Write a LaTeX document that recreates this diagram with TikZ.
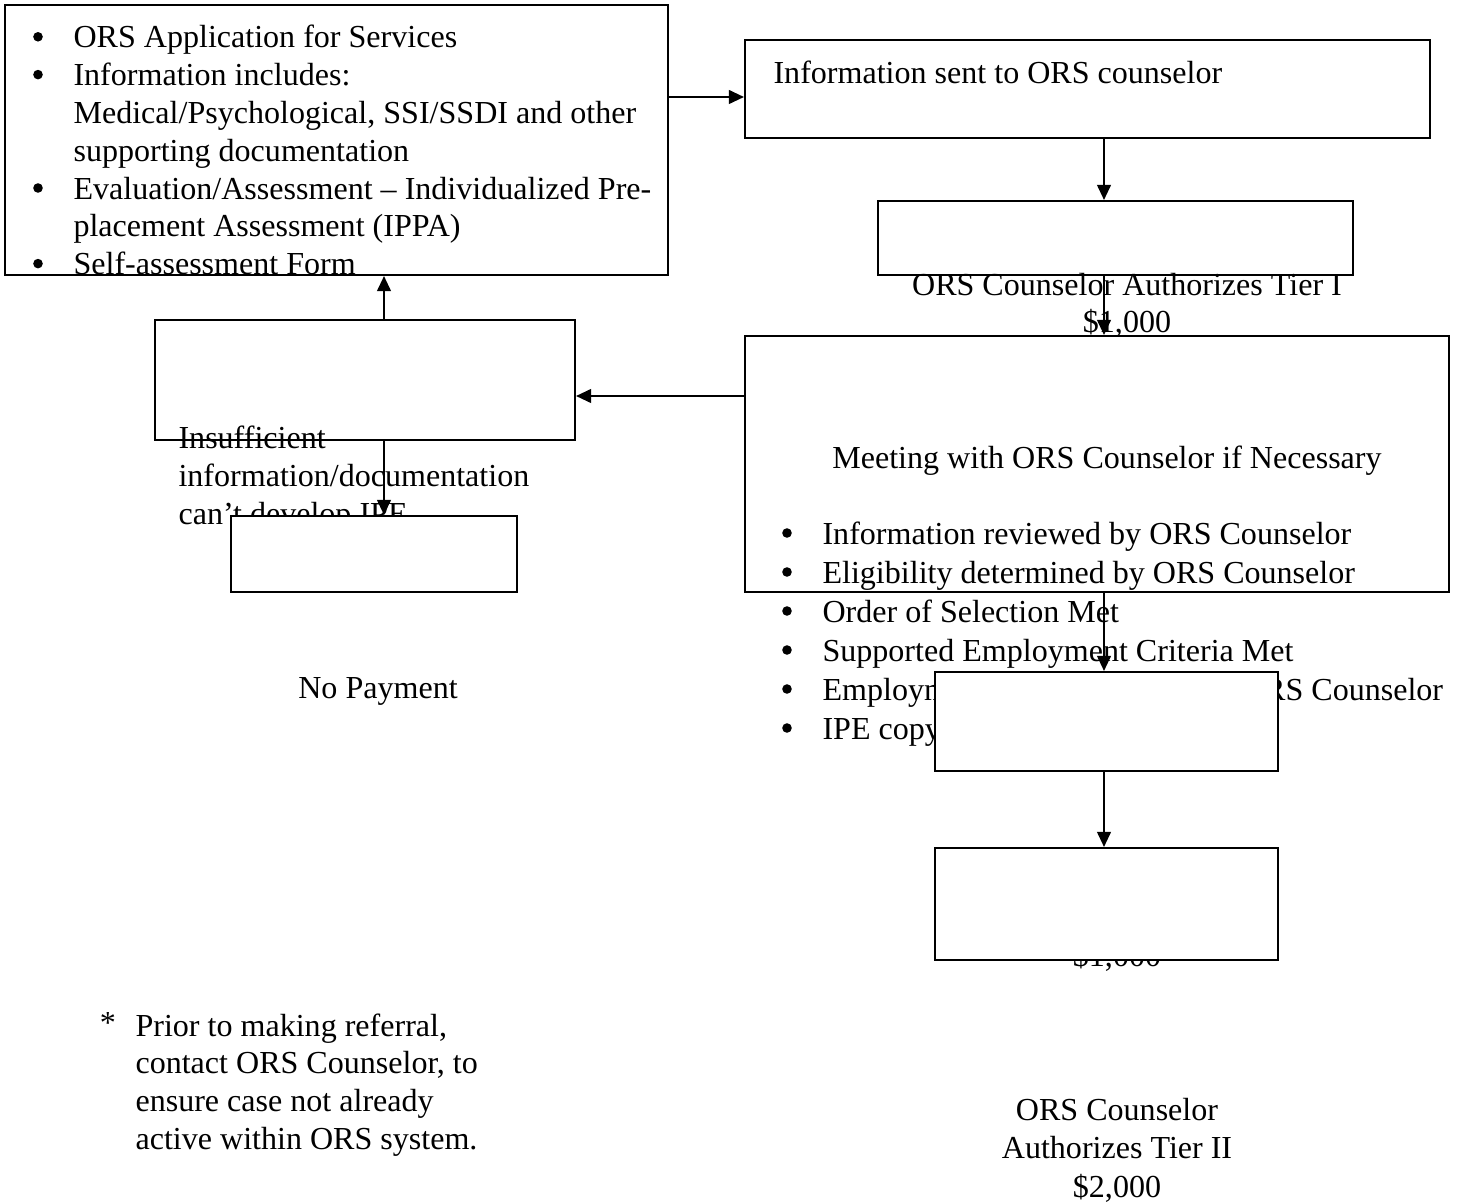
\documentclass[tikz,border=0pt]{standalone}
\usepackage{fontspec}
\setmainfont{Liberation Serif}
\usetikzlibrary{arrows.meta}

\tikzset{
  stage/.style 2 args={draw, line width=0.75pt, minimum width=#1*0.365pt, minimum height=#2*0.365pt, inner sep=0pt},
  blank/.style={fill=white},
  line/.style={anchor=base west, inner sep=0pt},
  ctr/.style={anchor=base, inner sep=0pt},
  dot/.style={circle, fill, inner sep=0pt, minimum size=3.5pt},
  arr/.style={line width=0.75pt, -{Triangle[length=5.5pt, width=5pt]}},
}

\begin{document}
\begin{tikzpicture}[x=0.365pt, y=-0.365pt, font=\fontsize{11.7}{13.8}\selectfont]
\useasboundingbox (0,0) rectangle (1458,1203);

% application box, text cut off at its frame
\node[stage={663}{270}] (A) at (336.5,140) {};
\begin{scope}
  \clip (5,5) rectangle (668,275);
  \foreach \txt [count=\i] in {ORS Application for Services, Information includes:, {Medical/Psychological, SSI/SSDI and other}, supporting documentation, Evaluation/Assessment – Individualized Pre-, placement Assessment (IPPA), Self-assessment Form}
    \node[line] (a\i) at (73, 10.2+37.8*\i) {\txt};
  \foreach \i in {1,2,5,7}
    \node[dot] (ab\i) at (38, -1+37.8*\i) {};
\end{scope}

\node[stage={685}{98}] (B) at (1087.5,89) {};
\node[line] (btxt) at (773,84) {Information sent to ORS counselor};

\node[stage={475}{74}] (C) at (1115.5,238) {};
\node[ctr] (c1) at (1127,296) {ORS Counselor Authorizes Tier I};
\node[ctr] (c2) at (1127,332) {\$1,000};

\node[stage={704}{256}] (D) at (1097,464) {};
\node[ctr] (dtxt) at (1107,468) {Meeting with ORS Counselor if Necessary};
\foreach \txt [count=\i] in {Information reviewed by ORS Counselor, Eligibility determined by ORS Counselor, Order of Selection Met, Supported Employment Criteria Met, Employment Plan developed by ORS Counselor, IPE copy}{
  \node[line] (d\i) at (822, 505+39*\i) {\txt};
  \node[dot] (db\i) at (787, 494+39*\i) {};
}

\node[stage={420}{120}] (E) at (365,380) {};
\foreach \txt [count=\i] in {Insufficient, information/documentation, can’t develop IPE}
  \node[line] (e\i) at (178, 410+38*\i) {\txt};

% tier text, hidden behind the last box
\node[ctr] (gtxt) at (1117,966) {\$1,000};

\node[stage={286}{76}, blank] (F) at (374,554) {};
\node[stage={343}{99}, blank] (G) at (1106.5,721.5) {};
\node[stage={343}{112}, blank] (H) at (1106.5,904) {};

\node[ctr] (ftxt) at (378,698) {No Payment};
\foreach \txt [count=\i] in {ORS Counselor, Authorizes Tier II, {\$2,000}}
  \node[ctr] (h\i) at (1117, 1081.5+38.5*\i) {\txt};

% note
\node[ctr] (star) at (108,1033) {*};
\foreach \txt [count=\i] in {{Prior to making referral,}, {contact ORS Counselor, to}, ensure case not already, active within ORS system.}
  \node[line] (n\i) at (135, 998.3+37.7*\i) {\txt};

% connectors
\draw[arr] (A.east |- 0,97) -- (B.west |- 0,97);
\draw[arr] (B.south -| 1104,0) -- (C.north -| 1104,0);
\draw[arr] (C.south -| 1104,0) -- (D.north -| 1104,0);
\draw[arr] (D.west |- 0,396) -- (E.east |- 0,396);
\draw[arr] (E.north -| 384,0) -- (A.south -| 384,0);
\draw[arr] (E.south -| 384,0) -- (F.north -| 384,0);
\draw[arr] (D.south -| 1104,0) -- (G.north -| 1104,0);
\draw[arr] (G.south -| 1104,0) -- (H.north -| 1104,0);
\end{tikzpicture}
\end{document}
